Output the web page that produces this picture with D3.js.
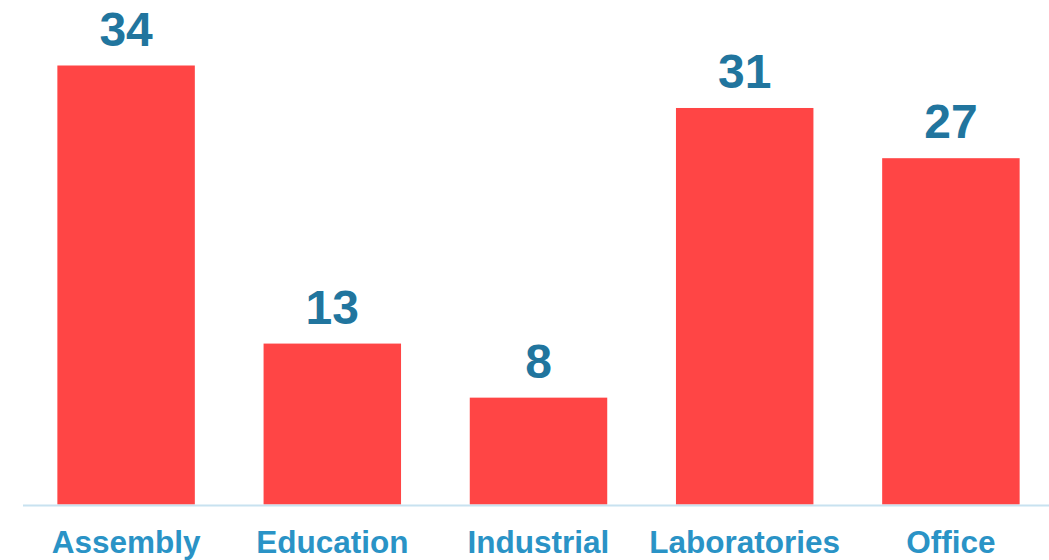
<!DOCTYPE html>
<html>
<head>
<meta charset="utf-8">
<script src="https://cdn.jsdelivr.net/npm/d3@7"></script>
<style>
  html, body { margin: 0; padding: 0; background: #ffffff; }
  svg { display: block; }
</style>
</head>
<body>
<svg id="chart" width="1049" height="560"></svg>
<script>
const categories = ["Assembly", "Education", "Industrial", "Laboratories", "Office"];
const values = [34.1, 12.5, 8.3, 30.8, 26.9];
const labels = ["34", "13", "8", "31", "27"];

const svg = d3.select("#chart");
const baseline = 504.5;

const x = d3.scaleBand()
  .domain(categories)
  .range([23, 1054])
  .paddingInner(1 / 3)
  .paddingOuter(1 / 6);

const y = d3.scaleLinear()
  .domain([0, d3.max(values)])
  .range([baseline, 65.5]);

const data = categories.map((c, i) => ({ c, v: values[i], l: labels[i] }));

svg.selectAll("rect.bar")
  .data(data)
  .join("rect")
  .attr("class", "bar")
  .attr("x", d => x(d.c))
  .attr("width", x.bandwidth())
  .attr("y", d => y(d.v))
  .attr("height", d => baseline - y(d.v))
  .attr("fill", "#ff4545");

svg.append("line")
  .attr("x1", 23).attr("x2", 1049)
  .attr("y1", baseline + 1).attr("y2", baseline + 1)
  .attr("stroke", "#c8e2f0")
  .attr("stroke-width", 2);

svg.selectAll("text.val")
  .data(data)
  .join("text")
  .attr("class", "val")
  .attr("x", d => x(d.c) + x.bandwidth() / 2)
  .attr("y", d => y(d.v) - 20)
  .attr("text-anchor", "middle")
  .attr("font-family", "'Liberation Sans', Arial, sans-serif")
  .attr("font-weight", "bold")
  .attr("font-size", 48)
  .attr("fill", "#21759e")
  .text(d => d.l);

svg.selectAll("text.cat")
  .data(data)
  .join("text")
  .attr("class", "cat")
  .attr("x", d => x(d.c) + x.bandwidth() / 2)
  .attr("y", 553)
  .attr("text-anchor", "middle")
  .attr("font-family", "'Liberation Sans', Arial, sans-serif")
  .attr("font-weight", "bold")
  .attr("font-size", 31.5)
  .attr("fill", "#2a93c6")
  .text(d => d.c);
</script>
</body>
</html>
